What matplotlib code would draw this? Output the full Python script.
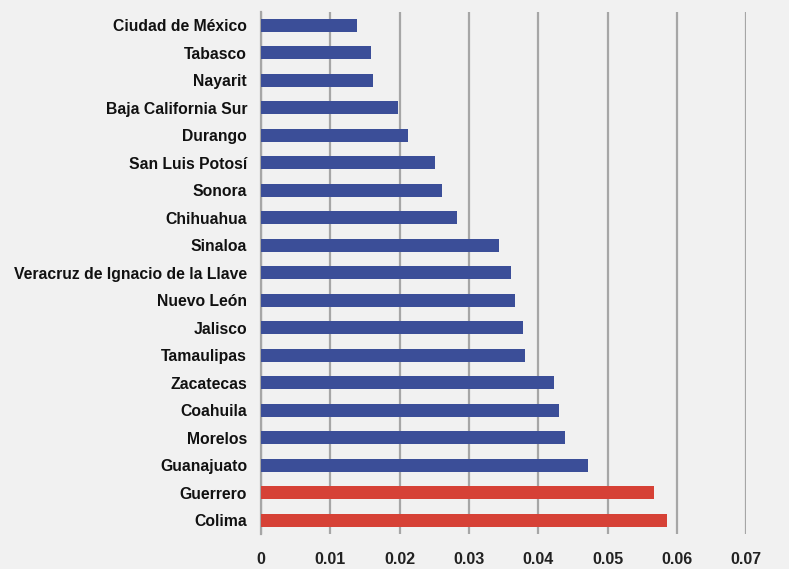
import matplotlib
matplotlib.use('Agg')
import matplotlib.pyplot as plt

# Estados y valores (de arriba hacia abajo)
estados = ['Ciudad de México', 'Tabasco', 'Nayarit', 'Baja California Sur',
           'Durango', 'San Luis Potosí', 'Sonora', 'Chihuahua', 'Sinaloa',
           'Veracruz de Ignacio de la Llave', 'Nuevo León', 'Jalisco',
           'Tamaulipas', 'Zacatecas', 'Coahuila', 'Morelos', 'Guanajuato',
           'Guerrero', 'Colima']
valores = [0.0138, 0.0158, 0.0161, 0.0198, 0.0212, 0.0251, 0.0261, 0.0282,
           0.0344, 0.0361, 0.0366, 0.0378, 0.0381, 0.0423, 0.0430, 0.0438,
           0.0472, 0.0567, 0.0586]
resaltados = ['Guerrero', 'Colima']
ticks_x = [0, 0.01, 0.02, 0.03, 0.04, 0.05, 0.06, 0.07]
etiquetas_x = ['0', '0.01', '0.02', '0.03', '0.04', '0.05', '0.06', '0.07']

azul = '#3b4e98'
rojo = '#d64136'
fondo = '#f1f1f1'

plt.rcParams['font.family'] = ['Liberation Sans', 'DejaVu Sans']

fig = plt.figure(figsize=(7.89, 5.69), dpi=100, facecolor=fondo)
ax = fig.add_axes([261 / 789, 1 - 534 / 569, (746.3 - 261) / 789, (534 - 11.7) / 569])
ax.set_facecolor(fondo)

colores = [rojo if e in resaltados else azul for e in estados]
pos = list(range(len(estados)))
ax.barh(pos, valores, height=0.47, color=colores, zorder=3)

ax.set_xlim(0, 0.07)
ax.set_ylim(len(estados) - 0.5, -0.5)
ax.set_yticks(pos)
ax.set_yticklabels(estados, fontsize=11.3, fontweight='bold', color='#111111')
ax.set_xticks(ticks_x)
ax.set_xticklabels(etiquetas_x, fontsize=11.5, fontweight='bold', color='#222222')
ax.tick_params(axis='y', length=0, pad=10)
ax.tick_params(axis='x', length=0, pad=13)

ax.grid(axis='x', color='#a6a6a6', linewidth=1.6, zorder=0)
ax.grid(axis='y', visible=False)
for lado in ['top', 'right', 'bottom']:
    ax.spines[lado].set_visible(False)
ax.spines['left'].set_color('#a6a6a6')
ax.spines['left'].set_linewidth(1.6)

fig.savefig('out.png', dpi=100, facecolor=fondo)
